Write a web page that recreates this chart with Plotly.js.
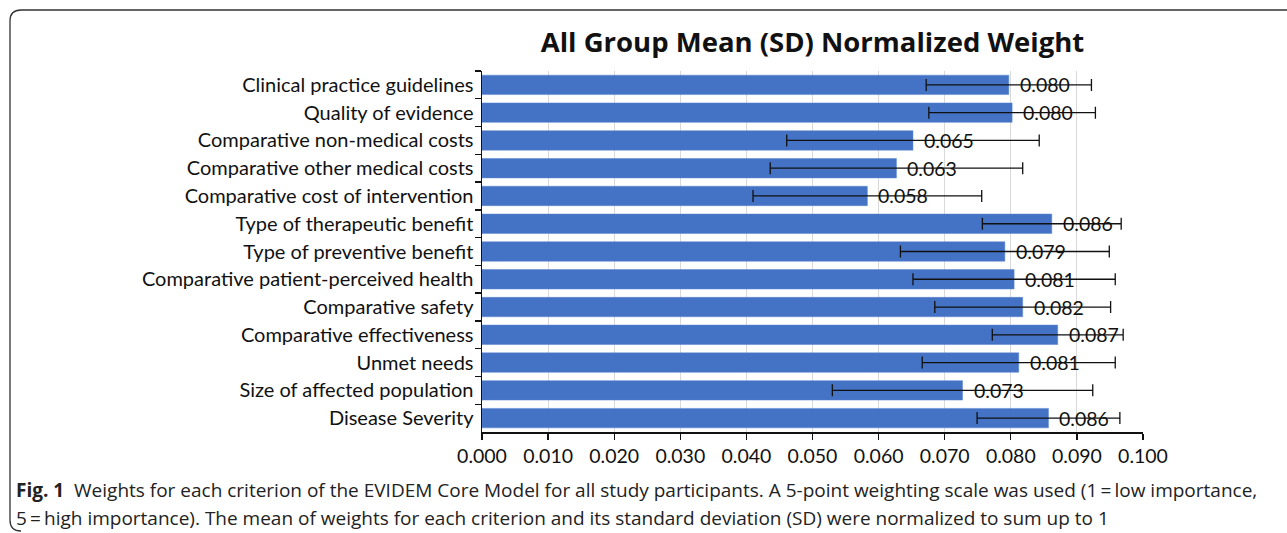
<!DOCTYPE html>
<html>
<head>
<meta charset="utf-8">
<script src="https://cdn.plot.ly/plotly-3.0.1.min.js"></script>
<style>html,body{margin:0;padding:0;background:#fff;}#chart{width:1287px;height:533px;}</style>
</head>
<body>
<div id="chart"></div>
<script>
// Data (top to bottom as displayed)
const criteria = [
  "Clinical practice guidelines",
  "Quality of evidence",
  "Comparative non-medical costs",
  "Comparative other medical costs",
  "Comparative cost of intervention",
  "Type of therapeutic benefit",
  "Type of preventive benefit",
  "Comparative patient-perceived health",
  "Comparative safety",
  "Comparative effectiveness",
  "Unmet needs",
  "Size of affected population",
  "Disease Severity"
];
const meanWeight = [0.0797, 0.0802, 0.0652, 0.0627, 0.0583, 0.0862, 0.0791, 0.0805, 0.0818, 0.0871, 0.0812, 0.0727, 0.0857];
const sdWeight   = [0.0125, 0.0126, 0.0191, 0.0191, 0.0173, 0.0105, 0.0158, 0.0153, 0.0133, 0.0099, 0.0146, 0.0197, 0.0108];
const xTickVals  = [0, 0.01, 0.02, 0.03, 0.04, 0.05, 0.06, 0.07, 0.08, 0.09, 0.1];
const xTickText  = ["0.000","0.010","0.020","0.030","0.040","0.050","0.060","0.070","0.080","0.090","0.100"];
const chartTitle = "All Group Mean (SD) Normalized Weight";
const captionLine1 = "<b>Fig. 1</b>  Weights for each criterion of the EVIDEM Core Model for all study participants. A 5-point weighting scale was used (1\u2009=\u2009low importance,";
const captionLine2 = "5\u2009=\u2009high importance). The mean of weights for each criterion and its standard deviation (SD) were normalized to sum up to 1";

// layout geometry (pixels)
const W = 1287, H = 533;
const L = 482, R = 1143, T = 71, B = 432;
const px = v => (v - L) / (R - L);
const py = v => (B - v) / (B - T);

const chartFont = "Lato, 'Open Sans', sans-serif";
const captionFont = "'Open Sans', 'Noto Sans', sans-serif";

const bars = {
  type: "bar",
  orientation: "h",
  x: meanWeight,
  y: criteria,
  marker: {color: "#4472C4", line: {color: "#5b85d0", width: 0.5}},
  error_x: {type: "data", array: sdWeight, visible: true, color: "#111", thickness: 1.3, width: 6},
  hoverinfo: "x+y"
};

const labelAnnotations = meanWeight.map((v, i) => ({
  x: v, y: criteria[i], xref: "x", yref: "y",
  text: v.toFixed(3), showarrow: false, xanchor: "left", xshift: 9,
  font: {family: chartFont, size: 19.5, color: "#111"}
}));

const framePath = `M ${px(W+5)},${py(10)} L ${px(21)},${py(10)} Q ${px(10)},${py(10)} ${px(10)},${py(21)} L ${px(10)},${py(520)} Q ${px(10)},${py(531)} ${px(21)},${py(531)}`;

const layout = {
  width: W, height: H,
  margin: {l: L, r: W - R, t: T, b: H - B, pad: 0},
  paper_bgcolor: "#fff", plot_bgcolor: "#fff",
  showlegend: false,
  bargap: 0.3,
  font: {family: chartFont, size: 20, color: "#111"},
  title: {
    text: "<b>" + chartTitle + "</b>",
    x: (L + R) / 2 / W, xanchor: "center",
    y: 1 - 42 / H, yanchor: "middle",
    font: {family: "'Open Sans', sans-serif", size: 27.5, color: "#111"}
  },
  xaxis: {
    range: [0, 0.1],
    tickvals: xTickVals, ticktext: xTickText,
    showgrid: true, gridcolor: "#d9d9d9", gridwidth: 1,
    zeroline: false,
    showline: true, linecolor: "#111", linewidth: 1.5,
    ticks: "outside", ticklen: 6, tickcolor: "#111", tickwidth: 1.3,
    tickfont: {family: chartFont, size: 19.5, color: "#111"},
    fixedrange: true
  },
  yaxis: {
    type: "category",
    autorange: "reversed",
    showline: true, linecolor: "#111", linewidth: 1.5,
    ticks: "outside", tickson: "boundaries", ticklen: 6, tickcolor: "#111", tickwidth: 1.3,
    showgrid: false,
    tickfont: {family: chartFont, size: 20, color: "#111"},
    ticklabelstandoff: 3,
    fixedrange: true
  },
  annotations: labelAnnotations.concat([
    {xref: "paper", yref: "paper", x: px(14), y: py(490), xanchor: "left", yanchor: "middle",
     text: captionLine1, showarrow: false, align: "left",
     font: {family: captionFont, size: 19, color: "#222"}},
    {xref: "paper", yref: "paper", x: px(14), y: py(518), xanchor: "left", yanchor: "middle",
     text: captionLine2, showarrow: false, align: "left",
     font: {family: captionFont, size: 19, color: "#222"}}
  ]),
  shapes: [
    {type: "path", xref: "paper", yref: "paper", path: framePath,
     line: {color: "#333", width: 1.3}, layer: "below"}
  ]
};

Plotly.newPlot("chart", [bars], layout, {displayModeBar: false, staticPlot: true});
</script>
</body>
</html>
